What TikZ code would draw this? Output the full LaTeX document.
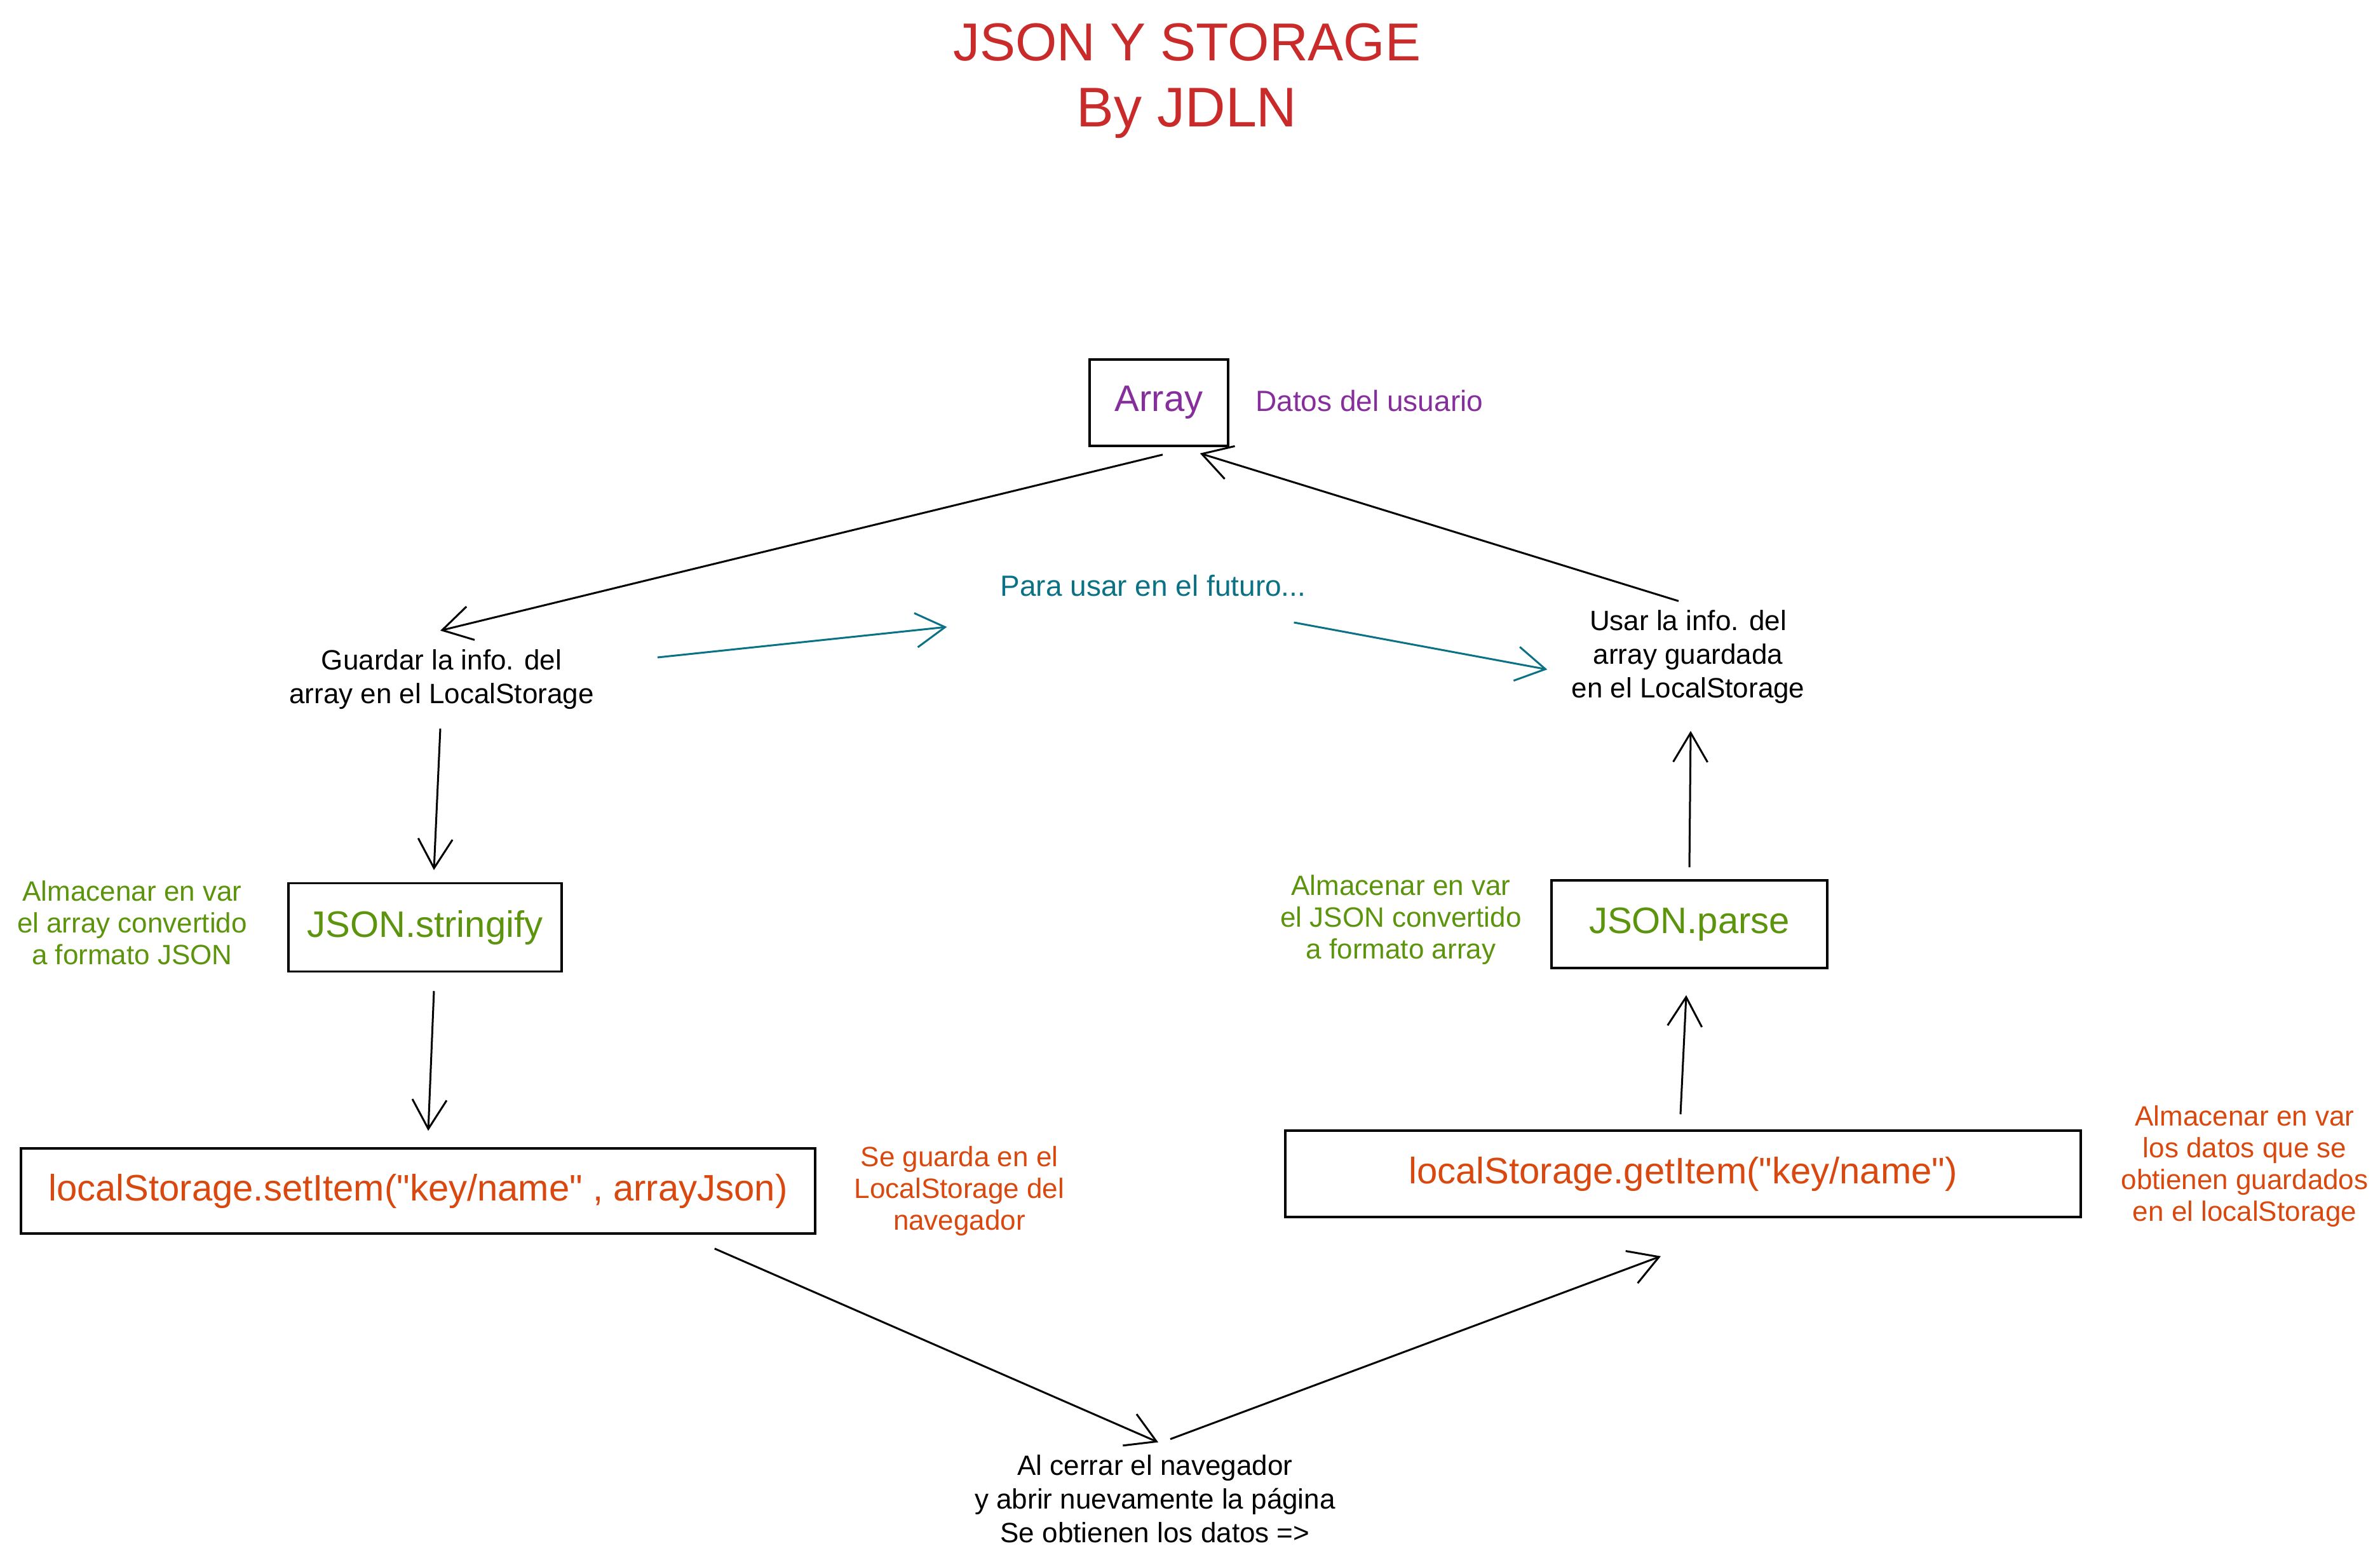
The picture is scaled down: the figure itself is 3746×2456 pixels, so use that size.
\documentclass[tikz,border=0pt]{standalone}
\usepackage{fontspec}
\setmainfont{Liberation Sans}
\usetikzlibrary{arrows.meta,calc}
\definecolor{xred}{HTML}{C92A2A}
\definecolor{xpurple}{HTML}{862E9C}
\definecolor{xteal}{HTML}{0B7285}
\definecolor{xgreen}{HTML}{5C940D}
\definecolor{xorange}{HTML}{D9480F}
\begin{document}
\begin{tikzpicture}[x=1pt,y=-1pt,
  txt/.style={inner sep=0pt, align=center, font=\fontsize{44}{53}\selectfont},
  side/.style={inner sep=0pt, align=center, font=\fontsize{44}{50}\selectfont},
  boxnode/.style={draw=black, line width=3.5pt, inner sep=0pt, font=\fontsize{58}{70}\selectfont},
  conn/.style={draw=black, line width=3pt, -{Straight Barb[length=46pt,width=54pt]}},
  tconn/.style={conn, draw=xteal}
]
\fill[white] (0,0) rectangle (3746,2456);
\useasboundingbox (0,0) rectangle (3746,2456);

% title
\node[inner sep=0pt, text=xred, font=\fontsize{84}{105}\selectfont] (title1) at (1868,67) {JSON Y STORAGE};
\node[inner sep=0pt, text=xred, font=\fontsize{88}{105}\selectfont] (title2) at (1868,178) {By JDLN};

% boxes
\node[boxnode, text=xpurple, minimum width=218pt, minimum height=136pt, font=\fontsize{58}{70}\selectfont] (arr) at (1824,634) {Array};
\node[txt, text=xpurple, anchor=west, font=\fontsize{46}{55}\selectfont] (datos) at (1976,631) {Datos del usuario};

\node[boxnode, text=xgreen, minimum width=430pt, minimum height=139pt] (strfy) at (669,1460) {JSON.stringify};
\node[boxnode, text=xgreen, minimum width=434pt, minimum height=138pt] (parse) at (2659,1455) {JSON.parse};
\node[boxnode, text=xorange, minimum width=1250pt, minimum height=134pt] (setitem) at (658,1875) {localStorage.setItem(\textquotedbl key/name\textquotedbl\ , arrayJson)};
\node[boxnode, text=xorange, minimum width=1252pt, minimum height=136pt] (getitem) at (2649,1848) {localStorage.getItem(\textquotedbl key/name\textquotedbl)};

% texts
\node[txt] (guardar) at (695,1070) {Guardar la info. del\\array en el LocalStorage};
\node[txt, text=xteal, font=\fontsize{46}{55}\selectfont] (futuro) at (1815,922) {Para usar en el futuro...};
\node[txt] (usar) at (2657,1034) {Usar la info. del\\array guardada\\en el LocalStorage};
\node[side, text=xgreen] (sidel) at (208,1453) {Almacenar en var\\el array convertido\\a formato JSON};
\node[side, text=xgreen] (sider) at (2205,1448) {Almacenar en var\\el JSON convertido\\a formato array};
\node[side, text=xorange] (segu) at (1510,1875) {Se guarda en el\\LocalStorage del\\navegador};
\node[side, text=xorange] (almr) at (3533,1836) {Almacenar en var\\los datos que se\\obtienen guardados\\en el localStorage};
\node[txt] (cerrar) at (1818,2360) {Al cerrar el navegador\\y abrir nuevamente la página\\Se obtienen los datos =>};

% connectors
\draw[conn] ($(arr.south)+(6,12)$) -- ($(guardar.north)+(-2,-30)$);
\draw[conn] ($(usar.north)+(-15,-14)$) -- ($(arr.south east)+(-46,10)$);
\draw[tconn] ($(guardar.east)+(100,-35)$) -- ($(futuro.west)+(-84,65)$);
\draw[tconn] ($(futuro.east)+(-19,58)$) -- ($(usar.west)+(-38,20)$);
\draw[conn] ($(guardar.south)+(-2,30)$) -- ($(strfy.north)+(14,-19)$);
\draw[conn] ($(strfy.south)+(14,29)$) -- ($(setitem.north)+(16,-26)$);
\draw[conn] ($(setitem.south east)+(-160,22)$) -- ($(cerrar.north)+(5,-20)$);
\draw[conn] ($(cerrar.north)+(24,-25)$) -- ($(getitem.south)+(-35,60)$);
\draw[conn] ($(getitem.north)+(-4,-24)$) -- ($(parse.south)+(-5,41)$);
\draw[conn] ($(parse.north)+(0,-19)$) -- ($(usar.south)+(4,43)$);
\end{tikzpicture}
\end{document}
